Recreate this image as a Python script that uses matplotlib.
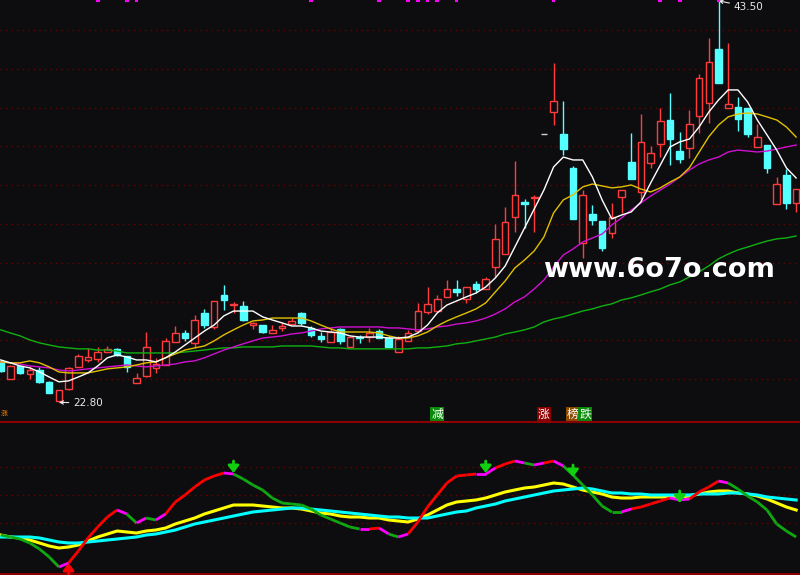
import matplotlib
matplotlib.use("Agg")
import matplotlib.pyplot as plt
from matplotlib.collections import LineCollection
import numpy as np

plt.rcParams['font.family'] = ['DejaVu Sans']

# DATOS VELAS (precio)
# -------------------------
opens = [24.90, 24.00, 24.68, 24.27, 24.47, 23.86, 22.85, 23.50, 24.63, 24.99,
         25.04, 25.40, 25.56, 25.20, 23.80, 24.16, 24.58, 24.73, 25.92, 26.38,
         25.87, 27.41, 26.70, 28.34, 27.83, 27.77, 26.79, 26.79, 26.38, 26.64,
         26.84, 27.41, 26.64, 26.23, 25.92, 26.59, 25.66, 26.15, 26.17, 26.48,
         26.12, 25.40, 25.97, 26.48, 27.46, 27.51, 28.24, 28.65, 28.13, 28.90,
         28.65, 29.78, 30.45, 32.36, 33.15, 33.35, 36.64, 37.77, 36.64, 34.89,
         31.00, 32.50, 32.15, 31.54, 33.40, 35.20, 33.65, 35.14, 36.12, 37.36,
         35.77, 35.92, 37.57, 38.24, 41.02, 37.98, 38.03, 37.98, 35.97, 36.07,
         33.03, 34.53, 33.08]
highs = [25.00, 24.75, 24.70, 24.68, 24.63, 23.90, 23.45, 24.60, 25.30, 25.60,
         25.66, 25.70, 25.61, 25.20, 24.32, 26.43, 25.10, 26.12, 26.74, 26.54,
         27.30, 27.60, 28.05, 28.86, 28.00, 28.03, 26.95, 26.80, 26.79, 26.90,
         27.15, 27.45, 26.74, 26.43, 26.70, 26.64, 26.17, 26.28, 26.64, 26.59,
         26.23, 26.23, 26.54, 27.93, 28.75, 28.34, 29.10, 29.10, 28.75, 29.06,
         29.27, 32.00, 32.88, 35.25, 33.30, 33.50, 36.64, 40.30, 38.34, 35.00,
         33.75, 32.98, 32.15, 33.08, 33.75, 36.70, 37.67, 36.00, 37.98, 38.75,
         36.74, 37.88, 39.73, 41.60, 43.50, 41.33, 38.55, 37.98, 37.15, 36.07,
         34.42, 34.84, 33.80]
lows = [24.35, 24.00, 24.27, 24.00, 23.80, 23.28, 22.80, 23.45, 24.63, 24.89,
        24.89, 25.40, 25.20, 24.37, 23.80, 24.11, 24.32, 24.73, 25.92, 25.97,
        25.60, 26.64, 26.60, 27.57, 27.40, 27.00, 26.60, 26.38, 26.38, 26.48,
        26.84, 26.79, 26.17, 25.92, 25.92, 25.82, 25.60, 25.87, 25.92, 26.12,
        25.66, 25.40, 25.97, 26.48, 27.36, 27.51, 28.24, 28.29, 27.93, 28.44,
        28.65, 29.27, 30.45, 31.59, 31.80, 31.60, 36.64, 37.10, 35.55, 32.26,
        30.25, 31.95, 30.60, 31.30, 32.57, 34.32, 33.13, 34.89, 35.45, 35.04,
        35.14, 35.40, 36.69, 37.20, 39.27, 37.98, 36.80, 36.48, 35.97, 34.63,
        33.03, 32.77, 32.62]
closes = [24.42, 24.68, 24.32, 24.47, 23.86, 23.30, 23.44, 24.58, 25.20, 25.14,
          25.40, 25.56, 25.25, 24.63, 24.06, 25.66, 24.78, 25.97, 26.38, 26.12,
          27.05, 26.79, 28.03, 28.08, 27.88, 27.05, 26.90, 26.43, 26.54, 26.74,
          27.00, 26.90, 26.28, 26.07, 26.43, 25.97, 26.17, 26.10, 26.38, 26.12,
          25.66, 26.07, 26.38, 27.51, 27.88, 28.13, 28.65, 28.50, 28.75, 28.65,
          29.16, 31.23, 32.10, 33.50, 33.05, 33.40, 36.64, 38.34, 35.87, 32.26,
          33.50, 32.20, 30.76, 32.36, 33.75, 34.32, 36.23, 35.66, 37.30, 36.38,
          35.35, 37.15, 39.53, 40.35, 39.27, 38.19, 37.41, 36.64, 36.48, 34.89,
          34.06, 33.08, 33.80]

# MEDIAS MOVILES
# -------------------------
ma5 = [24.99, 24.84, 24.68, 24.58, 24.37, 24.11, 23.86, 23.91, 24.11, 24.32,
       24.68, 25.10, 25.25, 25.14, 24.99, 24.99, 24.89, 25.10, 25.40, 25.76,
       26.12, 26.48, 26.79, 27.26, 27.51, 27.51, 27.51, 27.21, 27.05, 26.90,
       26.74, 26.74, 26.64, 26.48, 26.43, 26.38, 26.23, 26.17, 26.17, 26.17,
       26.12, 26.12, 26.17, 26.38, 26.79, 27.41, 27.82, 28.03, 28.24, 28.44,
       28.75, 29.22, 29.83, 30.81, 31.79, 32.77, 33.75, 34.94, 35.45, 35.30,
       35.30, 34.42, 33.24, 32.26, 32.46, 32.62, 33.13, 34.11, 35.04, 35.97,
       36.23, 36.38, 37.00, 37.77, 38.39, 38.91, 38.91, 38.29, 37.36, 36.59,
       35.81, 34.89, 34.37]
ma10 = [24.89, 24.84, 24.84, 24.94, 24.84, 24.63, 24.37, 24.32, 24.32, 24.32,
        24.42, 24.53, 24.58, 24.63, 24.73, 24.84, 24.89, 25.10, 25.30, 25.50,
        25.61, 25.71, 25.97, 26.28, 26.54, 26.79, 27.00, 27.05, 27.15, 27.15,
        27.15, 27.15, 27.00, 26.79, 26.59, 26.43, 26.43, 26.43, 26.43, 26.38,
        26.23, 26.12, 26.12, 26.23, 26.43, 26.74, 27.00, 27.21, 27.41, 27.62,
        27.93, 28.50, 29.06, 29.73, 30.14, 30.61, 31.33, 32.57, 33.24, 33.50,
        33.91, 34.06, 33.96, 33.86, 33.91, 34.01, 33.80, 33.65, 33.86, 34.16,
        34.42, 34.90, 35.70, 36.50, 37.10, 37.52, 37.67, 37.72, 37.67, 37.52,
        37.36, 37.00, 36.48]
ma20 = [24.89, 24.84, 24.78, 24.68, 24.63, 24.58, 24.47, 24.42, 24.47, 24.53,
        24.58, 24.63, 24.68, 24.73, 24.68, 24.63, 24.68, 24.73, 24.78, 24.89,
        24.94, 25.10, 25.30, 25.50, 25.66, 25.82, 25.97, 26.12, 26.17, 26.23,
        26.33, 26.38, 26.48, 26.59, 26.64, 26.69, 26.69, 26.69, 26.69, 26.69,
        26.64, 26.64, 26.59, 26.54, 26.59, 26.69, 26.74, 26.84, 26.90, 27.00,
        27.15, 27.36, 27.62, 27.98, 28.24, 28.65, 29.11, 29.78, 30.40, 30.71,
        31.07, 31.28, 31.48, 31.95, 32.31, 32.72, 33.08, 33.44, 33.75, 34.06,
        34.42, 34.78, 35.09, 35.30, 35.45, 35.71, 35.81, 35.76, 35.71, 35.76,
        35.86, 35.97, 36.07]
ma60 = [26.54, 26.38, 26.23, 26.02, 25.87, 25.76, 25.66, 25.61, 25.56, 25.56,
        25.50, 25.50, 25.45, 25.35, 25.35, 25.35, 25.35, 25.35, 25.35, 25.40,
        25.45, 25.50, 25.56, 25.61, 25.61, 25.66, 25.66, 25.66, 25.66, 25.71,
        25.71, 25.71, 25.71, 25.66, 25.61, 25.61, 25.56, 25.56, 25.56, 25.56,
        25.56, 25.56, 25.56, 25.61, 25.61, 25.66, 25.71, 25.82, 25.87, 25.97,
        26.07, 26.17, 26.33, 26.43, 26.54, 26.69, 26.95, 27.10, 27.21, 27.36,
        27.51, 27.62, 27.77, 27.88, 28.08, 28.19, 28.34, 28.50, 28.65, 28.86,
        29.01, 29.27, 29.53, 29.84, 30.20, 30.45, 30.66, 30.81, 30.97, 31.12,
        31.23, 31.28, 31.38]

# SEÑALES
# -------------------------
top_marks = [10, 13, 14, 32, 39, 42, 43, 44, 45, 47, 57, 68, 70, 74]
tag_text = ['减', '涨', '榜', '跌']
tag_x = [45, 56, 59, 60.25]
tag_bg = ['#0a8a0a', '#8a0000', '#8a4a00', '#0a8a0a']
high_label = '43.50'
low_label = '22.80'

# INDICADOR INFERIOR
# -------------------------
ind = [40, 38, 36, 32, 26, 18, 8, 12, 24, 37,
       48, 58, 65, 61, 52, 57, 55, 61, 73, 80,
       88, 95, 99, 102, 101, 96, 90, 85, 77, 72,
       71, 70, 66, 60, 56, 52, 48, 46, 46, 47,
       41, 38, 41, 53, 68, 80, 92, 99, 100, 101,
       101, 107, 111, 114, 112, 110, 112, 114, 109, 100,
       90, 80, 69, 63, 63, 66, 68, 71, 74, 77,
       75, 76, 83, 88, 94, 92, 86, 79, 73, 65,
       51, 44, 38]
# estado de cada tramo: g baja, m giro, r sube
seg_state = ("gggggg" + "m" + "rrrrr" + "m" + "g" + "m" + "g" + "m" + "rrrrrr" + "m"
             + "ggggggggggggg" + "m" + "r" + "m" + "g" + "m" + "rrrrrrr" + "mm" + "rr"
             + "m" + "g" + "m" + "r" + "m" + "gggggg" + "m" + "rrrr" + "mm" + "rrr"
             + "m" + "ggggggg")
ind_yellow = [40, 38, 37, 35, 32, 29, 27, 28, 30, 34,
              38, 41, 44, 43, 42, 44, 45, 47, 51, 54,
              57, 61, 64, 67, 70, 70, 70, 69, 68, 67,
              67, 66, 64, 62, 61, 59, 58, 58, 57, 57,
              55, 54, 53, 56, 60, 65, 70, 73, 74, 75,
              77, 80, 83, 85, 87, 88, 90, 92, 91, 88,
              85, 83, 81, 78, 77, 77, 78, 78, 78, 78,
              78, 79, 81, 83, 84, 84, 82, 81, 79, 76,
              72, 68, 65]
ind_cyan = [38, 38, 38, 38, 37, 35, 33, 32, 32, 33,
            34, 35, 36, 37, 38, 40, 41, 43, 45, 48,
            51, 53, 55, 57, 59, 61, 63, 64, 65, 66,
            67, 67, 66, 65, 64, 63, 62, 61, 60, 59,
            58, 58, 57, 57, 57, 59, 61, 63, 64, 67,
            69, 71, 74, 76, 78, 80, 82, 84, 85, 86,
            87, 86, 84, 82, 82, 81, 81, 80, 80, 80,
            80, 80, 81, 81, 81, 82, 82, 81, 80, 78,
            77, 76, 75]
down_arrow_x = [24, 50, 59, 70]
down_arrow_tip = [102, 102, 98, 72]
up_arrow_x = [7]
up_arrow_tip = [12]

# COLORES
# -------------------------
BG = '#0d0d10'
UP = '#ff3b3b'
DOWN = '#54ffff'
GRID = '#6a0000'
state_color = {'g': '#10a810', 'm': '#ff00ff', 'r': '#ff0000'}

fig = plt.figure(figsize=(8, 5.75), dpi=100, facecolor=BG)
ax = fig.add_axes([0, 153 / 575, 1, 422 / 575])
ax2 = fig.add_axes([0, 1 / 575, 1, 152 / 575])

for a in (ax, ax2):
    a.set_facecolor(BG)
    a.set_xticks([])
    a.set_yticks([])
    for s in a.spines.values():
        s.set_visible(False)
    a.set_xlim(-0.072, 82.4)

# PANEL PRECIO
# -------------------------
ax.set_ylim(21.79, 43.546)
for lv in range(24, 43, 2):
    ax.axhline(lv, color=GRID, lw=1, ls=(0, (1, 3)), zorder=0)

x = np.arange(len(opens))
for i in x:
    o, h, l, c = opens[i], highs[i], lows[i], closes[i]
    if c > o:
        col, face = UP, BG
    elif c < o:
        col, face = DOWN, DOWN
    else:
        col, face = '#d0d0d0', '#d0d0d0'
    top = max(o, c)
    bot = min(o, c)
    ax.vlines(i, top, h, color=col, lw=1, zorder=2)
    ax.vlines(i, l, bot, color=col, lw=1, zorder=2)
    ax.bar(i, max(top - bot, 0.02), bottom=bot, width=0.68,
           facecolor=face, edgecolor=col, linewidth=1, zorder=3)

ax.plot(x, ma60, color='#10b010', lw=1, zorder=4)
ax.plot(x, ma20, color='#d010d0', lw=1, zorder=4)
ax.plot(x, ma10, color='#e0c000', lw=1, zorder=4)
ax.plot(x, ma5, color='#ffffff', lw=1, zorder=5)

ax.bar(top_marks, 0.09, bottom=43.546 - 0.09, width=0.38, color='#ff00ff', zorder=6)

i_hi = highs.index(max(highs))
i_lo = lows.index(min(lows))
ax.annotate(high_label, xy=(i_hi, highs[i_hi]), xytext=(i_hi + 1.55, 43.2),
            color='#e8e8e8', fontsize=7.5, va='center', ha='left',
            arrowprops=dict(arrowstyle='->', color='#e8e8e8', lw=0.8,
                            shrinkA=1, shrinkB=0, mutation_scale=6))
ax.annotate(low_label, xy=(i_lo, lows[i_lo]), xytext=(i_lo + 1.45, 22.78),
            color='#e8e8e8', fontsize=7.5, va='center', ha='left',
            arrowprops=dict(arrowstyle='->', color='#e8e8e8', lw=0.8,
                            shrinkA=1, shrinkB=0, mutation_scale=6))

for t, tx, bg in zip(tag_text, tag_x, tag_bg):
    ax.text(tx, 22.18, t, ha='center', va='center', fontsize=8.5, color='white',
            family=['Noto Sans CJK SC', 'DejaVu Sans'], zorder=7,
            bbox=dict(boxstyle='square,pad=0.08', fc=bg, ec='none'))
# marca naranja pequeña en el borde izquierdo
ax.text(0.0, 22.18, '涨', ha='left', va='center', fontsize=5, color='#ff8000',
        family=['Noto Sans CJK SC', 'DejaVu Sans'])

ax.text(55.9, 29.27, 'www.6o7o.com', color='white', fontsize=19.5,
        fontweight='bold', ha='left', va='baseline', zorder=8)

# PANEL INDICADOR
# -------------------------
ax2.set_ylim(1, 153)
for lv in (52, 80, 108):
    ax2.axhline(lv, color=GRID, lw=1, ls=(0, (1, 3)), zorder=0)
ax2.spines['top'].set_visible(True)
ax2.spines['top'].set_color('#8a0000')
ax2.spines['top'].set_linewidth(1.5)
ax2.spines['bottom'].set_visible(True)
ax2.spines['bottom'].set_color('#8a0000')
ax2.spines['bottom'].set_linewidth(1.5)

ax2.plot(x, ind_yellow, color='#ffff00', lw=2.2, zorder=2)
ax2.plot(x, ind_cyan, color='#00ffff', lw=2.2, zorder=3)

segs = [[(i - 1, ind[i - 1]), (i, ind[i])] for i in range(1, len(ind))]
cols = [state_color[s] for s in seg_state[:len(segs)]]
ax2.add_collection(LineCollection(segs, colors=cols, linewidths=2, zorder=4))

for ax_i, tip in zip(down_arrow_x, down_arrow_tip):
    ax2.annotate('', xy=(ax_i, tip), xytext=(ax_i, tip + 12),
                 arrowprops=dict(arrowstyle='-|>,head_width=0.32,head_length=0.42',
                                 color='#10d010', lw=2, shrinkA=0, shrinkB=0,
                                 mutation_scale=10), zorder=5)
for ax_i, tip in zip(up_arrow_x, up_arrow_tip):
    ax2.annotate('', xy=(ax_i, tip), xytext=(ax_i, tip - 14),
                 arrowprops=dict(arrowstyle='-|>,head_width=0.32,head_length=0.42',
                                 color='#ff0000', lw=2, shrinkA=0, shrinkB=0,
                                 mutation_scale=10), zorder=5)

fig.savefig('out.png', dpi=100, facecolor=BG)
